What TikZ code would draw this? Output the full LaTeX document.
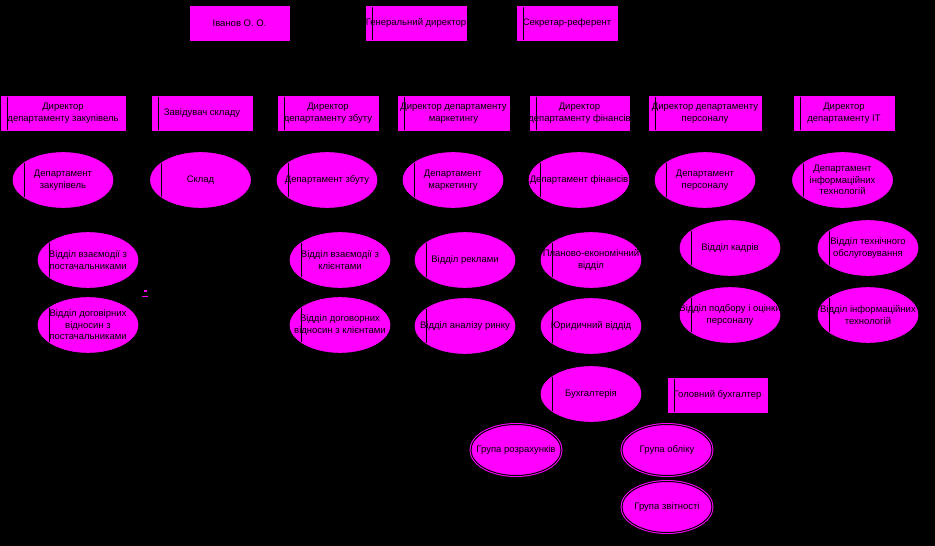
\documentclass[tikz,border=0pt]{standalone}
\usepackage{fontspec}
\setmainfont{Liberation Sans}
\usetikzlibrary{shapes.geometric}
\definecolor{mag}{HTML}{FF00FF}
\newcommand{\fnt}{\fontsize{9.5}{11.5}\selectfont}
\tikzset{
  base/.style={fill=mag, draw=mag, line width=0.6pt, inner sep=0pt},
  txt/.style={align=center, font=\fnt, text=black, inner sep=0pt},
  box/.style={base, rectangle, minimum height=34pt, minimum width=100pt},
  sbox/.style={box, path picture={\draw[black, line width=0.9pt]
      ([xshift=6pt]path picture bounding box.north west) --
      ([xshift=6pt]path picture bounding box.south west);}},
  oval/.style={base, ellipse, minimum width=100pt, minimum height=55pt,
    path picture={\draw[black, line width=0.9pt]
      ([xshift=11pt]path picture bounding box.north west) --
      ([xshift=11pt]path picture bounding box.south west);}},
  dbl/.style={ellipse, draw=mag, double=black, double distance=1pt,
    line width=1pt, fill=mag, minimum width=90pt, minimum height=51pt, inner sep=0pt}
}
\begin{document}
\begin{tikzpicture}[x=1pt, y=-1pt]
\fill[black] (0,0) rectangle (935,546);
\useasboundingbox (0,0) rectangle (935,546);
% top row
\node[box, minimum width=99pt, label={[txt]center:Іванов О. О.}] (ivanov) at (239.5,23) {};
\node[sbox, label={[txt]center:Генеральний директор}] (gen) at (416,23) {};
\node[sbox, label={[txt]center:Секретар-референт}] (sec) at (567,23) {};
% directors
\node[sbox, minimum width=124pt, label={[txt]center:Директор\\департаменту  закупівель}] (dzak) at (63,113) {};
\node[sbox, label={[txt]center:Завідувач складу}] (dskl) at (202,113) {};
\node[sbox, label={[txt]center:Директор\\департаменту збуту}] (dzb) at (328,113) {};
\node[sbox, minimum width=111pt, label={[txt]center:Директор департаменту\\маркетингу}] (dmar) at (453.5,113) {};
\node[sbox, minimum width=99pt, label={[txt]center:Директор\\департаменту фінансів}] (dfin) at (579.5,113) {};
\node[sbox, minimum width=112pt, label={[txt]center:Директор департаменту\\персоналу}] (dper) at (705,113) {};
\node[sbox, label={[txt]center:Директор\\департаменту ІТ}] (dit) at (844,113) {};
% departments
\node[oval, label={[txt]center:Департамент\\закупівель}] (zak) at (63,180) {};
\node[oval, label={[txt]center:Склад}] (skl) at (200.5,180) {};
\node[oval, label={[txt]center:Департамент збуту}] (zb) at (327,180) {};
\node[oval, label={[txt]center:Департамент\\маркетингу}] (mar) at (453,180) {};
\node[oval, label={[txt]center:Департамент фінансів}] (fin) at (579,180) {};
\node[oval, label={[txt]center:Департамент\\персоналу}] (per) at (705,180) {};
\node[oval, label={[txt]center:Департамент\\інформаційних\\технологій}] (it) at (842.5,180) {};
% units row 4
\node[oval, label={[txt]center:Відділ взаємодії з\\постачальниками}] (vzp) at (88,260) {};
\node[oval, label={[txt]center:Відділ взаємодії з\\клієнтами}] (vzk) at (340,260) {};
\node[oval, label={[txt]center:Відділ реклами}] (rek) at (465,260) {};
\node[oval, label={[txt]center:Планово-економічний\\відділ}] (plan) at (591,260) {};
\node[oval, label={[txt]center:Відділ кадрів}] (kadr) at (730,248) {};
\node[oval, label={[txt]center:Відділ технічного\\обслуговування}] (tech) at (868,248) {};
% units row 5
\node[oval, label={[txt]center:Відділ договірних\\відносин з\\постачальниками}] (dvp) at (88,325) {};
\node[oval, label={[txt]center:Відділ договорних\\відносин з клієнтами}] (dvk) at (340,325) {};
\node[oval, label={[txt]center:Відділ аналізу ринку}] (anal) at (465,326) {};
\node[oval, label={[txt]center:Юридичний віддід}] (yur) at (591,326) {};
\node[oval, label={[txt]center:Відділ подбору і оцінки\\персоналу}] (pod) at (730,315) {};
\node[oval, label={[txt]center:Відділ інформаційних\\технологій}] (inf) at (868,315) {};
% accounting
\node[oval, label={[txt]center:Бухгалтерія}] (buh) at (591,394) {};
\node[sbox, minimum width=99pt, label={[txt]center:Головний бухгалтер}] (gbuh) at (717.5,395) {};
\node[dbl, label={[txt]center:Група розрахунків}] (grr) at (516,450) {};
\node[dbl, label={[txt]center:Група обліку}] (gro) at (667,450) {};
\node[dbl, label={[txt]center:Група звітності}] (grz) at (667,507) {};
% small mark
\fill[mag] (143.5,290) rectangle (146.5,292);
\fill[mag] (142,295.5) rectangle (148,296.5);
\end{tikzpicture}
\end{document}
